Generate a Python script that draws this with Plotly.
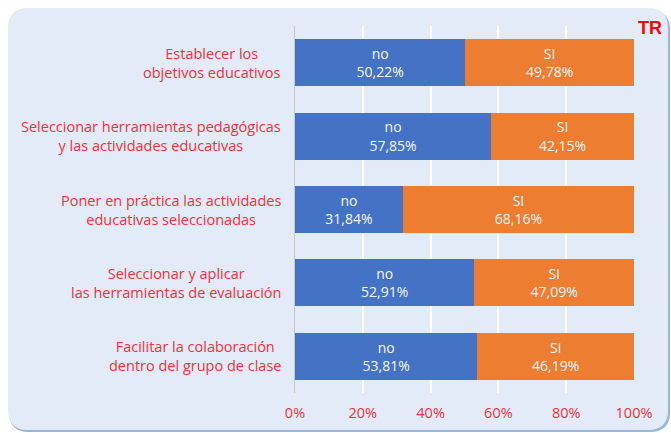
import plotly.graph_objects as go

# Survey items (top to bottom) and answer shares in percent
categorias = [
    "Establecer los<br>objetivos educativos",
    "Seleccionar herramientas pedagógicas<br>y las actividades educativas",
    "Poner en práctica las actividades<br>educativas seleccionadas",
    "Seleccionar y aplicar<br>las herramientas de evaluación",
    "Facilitar la colaboración<br>dentro del grupo de clase",
]
valores_no = [50.22, 57.85, 31.84, 52.91, 53.81]
valores_si = [49.78, 42.15, 68.16, 47.09, 46.19]
ticks_x = [0, 20, 40, 60, 80, 100]
etiquetas_x = ["0%", "20%", "40%", "60%", "80%", "100%"]

AZUL = "#4472C4"
NARANJA = "#ED7D31"
ROJO = "#F0323C"
TEXTO_BARRA = "#F4F6FA"
FUENTE = "Open Sans, Noto Sans, sans-serif"

W, H = 671, 433
ML, MR, MT, MB = 295, 37, 26, 40


def pct(v):
    return f"{v:.2f}".replace(".", ",") + "%"


fig = go.Figure()
fig.add_trace(go.Bar(
    y=categorias, x=valores_no, orientation="h", name="no",
    marker=dict(color=AZUL, line=dict(width=0)),
    text=["no<br>" + pct(v) for v in valores_no],
    textposition="inside", insidetextanchor="middle",
    textfont=dict(color=TEXTO_BARRA, size=14, family=FUENTE),
    hoverinfo="skip",
))
fig.add_trace(go.Bar(
    y=categorias, x=valores_si, orientation="h", name="SI",
    marker=dict(color=NARANJA, line=dict(width=0)),
    text=["SI<br>" + pct(v) for v in valores_si],
    textposition="inside", insidetextanchor="middle",
    textfont=dict(color=TEXTO_BARRA, size=14, family=FUENTE),
    hoverinfo="skip",
))

# Category labels, centred line by line, right-aligned against the axis
annotations = [
    dict(x=0, xref="paper", y=c, yref="y", text=c, showarrow=False,
         xanchor="right", xshift=-12, align="center",
         font=dict(color=ROJO, size=14.5, family=FUENTE))
    for c in categorias
]
annotations.append(dict(
    x=1.0, xref="paper", y=1.0, yref="paper", text="<b>TR</b>",
    showarrow=False, xanchor="left", yanchor="bottom", xshift=2, yshift=-14,
    font=dict(color="#FF0000", size=18, family="Liberation Sans, Arial, sans-serif"),
))


def px_to_paper(px, py):
    pw, ph = W - ML - MR, H - MT - MB
    return (px - ML) / pw, 1 - (py - MT) / ph


def rounded_rect(x0, y0, x1, y1, r):
    def P(a, b):
        u, v = px_to_paper(a, b)
        return f"{u:.5f},{v:.5f}"
    return " ".join([
        f"M {P(x0 + r, y0)}",
        f"L {P(x1 - r, y0)}",
        f"Q {P(x1, y0)} {P(x1, y0 + r)}",
        f"L {P(x1, y1 - r)}",
        f"Q {P(x1, y1)} {P(x1 - r, y1)}",
        f"L {P(x0 + r, y1)}",
        f"Q {P(x0, y1)} {P(x0, y1 - r)}",
        f"L {P(x0, y0 + r)}",
        f"Q {P(x0, y0)} {P(x0 + r, y0)} Z",
    ])


fig.update_layout(
    width=W, height=H,
    barmode="stack", bargap=0.36,
    showlegend=False,
    paper_bgcolor="white",
    plot_bgcolor="rgba(0,0,0,0)",
    margin=dict(l=ML, r=MR, t=MT, b=MB),
    font=dict(family=FUENTE),
    xaxis=dict(
        range=[0, 100], tickvals=ticks_x, ticktext=etiquetas_x,
        showgrid=True, gridcolor="white", gridwidth=1.5,
        zeroline=False, showline=False, ticks="",
        ticklabelstandoff=9,
        tickfont=dict(color=ROJO, size=14.5, family=FUENTE),
        fixedrange=True,
    ),
    yaxis=dict(
        autorange="reversed", showticklabels=False, ticks="",
        showgrid=False, zeroline=False,
        showline=True, linecolor="#c8c8c8", linewidth=1,
        fixedrange=True,
    ),
    annotations=annotations,
    shapes=[
        # soft blue edge under the panel
        dict(type="path", xref="paper", yref="paper", layer="below",
             path=rounded_rect(9, 10, 670, 432, 20),
             line=dict(width=0), fillcolor="#9ab5e0"),
        # light blue rounded panel
        dict(type="path", xref="paper", yref="paper", layer="below",
             path=rounded_rect(8, 8, 668, 430, 20),
             line=dict(width=0), fillcolor="#e2ebf7"),
    ],
)

fig.write_html("out.html")
